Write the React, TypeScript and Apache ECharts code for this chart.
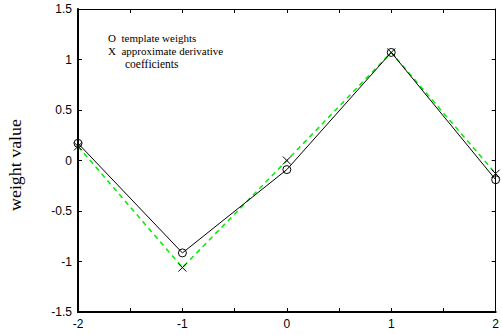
import React, { useEffect, useRef } from "react";
import * as echarts from "echarts";

const positions = [-2, -1, 0, 1, 2];
const templateWeights = [0.17, -0.915, -0.09, 1.07, -0.19];
const derivativeCoeffs = [0.14, -1.06, 0.0, 1.07, -0.13];
const xTickLabels = ["-2", "-1", "0", "1", "2"];
const yTickLabels = ["-1.5", "-1", "-0.5", "0", "0.5", "1", "1.5"];

const crossPath = "path://M0,0L10,10M10,0L0,10";
const circlePath = "path://M10,5A5,5,0,1,1,0,5A5,5,0,1,1,10,5Z";

export default function App() {
  const ref = useRef<HTMLDivElement>(null);
  useEffect(() => {
    if (!ref.current) return;
    const chart = echarts.init(ref.current, null, { renderer: "svg" });
    const sans = "Liberation Sans";
    const serif = "Liberation Serif";
    const hiddenAxisCommon = {
      axisLabel: { show: false },
      splitLine: { show: false },
      axisLine: { show: true, onZero: false, lineStyle: { color: "#000", width: 1 } },
      axisTick: { show: true, inside: true, length: 4, lineStyle: { color: "#000" } },
    };
    chart.setOption({
      animation: false,
      backgroundColor: "#fff",
      grid: { left: 78, right: 3, top: 9, bottom: 23, containLabel: false },
      xAxis: [
        {
          type: "value",
          min: -2,
          max: 2,
          interval: 0.5,
          position: "bottom",
          axisLine: { show: true, onZero: false, lineStyle: { color: "#000", width: 2 } },
          axisTick: { show: true, inside: true, length: 4, lineStyle: { color: "#000" } },
          splitLine: { show: false },
          axisLabel: {
            color: "#000",
            fontFamily: sans,
            fontSize: 12,
            margin: 6,
            formatter: (v: number) => {
              const i = positions.indexOf(v);
              return i >= 0 ? xTickLabels[i] : "";
            },
          },
        },
        {
          type: "value",
          min: -2,
          max: 2,
          interval: 0.5,
          position: "top",
          ...hiddenAxisCommon,
        },
      ],
      yAxis: [
        {
          type: "value",
          min: -1.5,
          max: 1.5,
          interval: 0.5,
          position: "left",
          axisLine: { show: true, onZero: false, lineStyle: { color: "#000", width: 2 } },
          axisTick: { show: true, inside: true, length: 4, lineStyle: { color: "#000" } },
          splitLine: { show: false },
          axisLabel: {
            color: "#000",
            fontFamily: sans,
            fontSize: 12,
            margin: 6,
            formatter: (v: number) => {
              const i = Math.round((v + 1.5) / 0.5);
              return yTickLabels[i] ?? "";
            },
          },
        },
        {
          type: "value",
          min: -1.5,
          max: 1.5,
          interval: 0.5,
          position: "right",
          ...hiddenAxisCommon,
        },
      ],
      series: [
        {
          type: "line",
          data: positions.map((x, i) => [x, derivativeCoeffs[i]]),
          lineStyle: { color: "#00ee00", width: 1.5, type: [5, 4] },
          symbol: crossPath,
          symbolSize: 8,
          itemStyle: { color: "none", borderColor: "#000", borderWidth: 1 },
          z: 2,
        },
        {
          type: "line",
          data: positions.map((x, i) => [x, templateWeights[i]]),
          lineStyle: { color: "#000", width: 1 },
          symbol: circlePath,
          symbolSize: 8,
          itemStyle: { color: "none", borderColor: "#000", borderWidth: 1 },
          z: 3,
        },
      ],
      graphic: [
        {
          type: "text",
          x: 16,
          y: 165,
          rotation: Math.PI / 2,
          scaleX: 1.12,
          style: {
            text: "weight value",
            font: `16px "${serif}"`,
            fill: "#000",
            align: "center",
            verticalAlign: "middle",
          },
        },
        { type: "text", left: 108, top: 32, style: { text: "O  template weights", font: `11px "${serif}"`, fill: "#000" } },
        { type: "text", left: 108, top: 45, style: { text: "X  approximate derivative", font: `11px "${serif}"`, fill: "#000" } },
        { type: "text", left: 125, top: 58, style: { text: "coefficients", font: `11.5px "${serif}"`, fill: "#000" } },
      ],
    });
    return () => chart.dispose();
  }, []);
  return (
    <div
      ref={ref}
      style={{ position: "fixed", left: 0, top: 0, width: 502, height: 335 }}
    />
  );
}
